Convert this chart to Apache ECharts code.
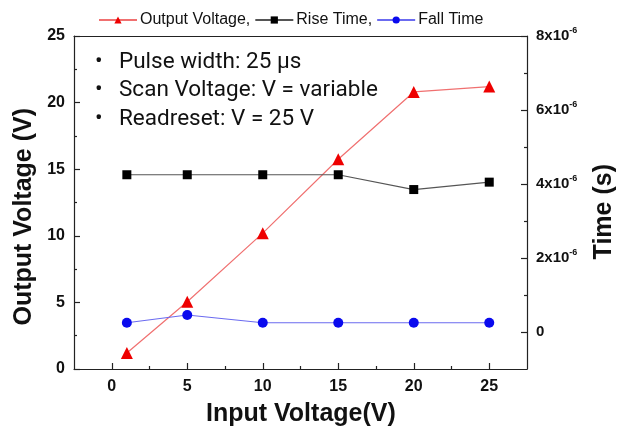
<!DOCTYPE html>
<html>
<head>
<meta charset="utf-8">
<script src="https://cdn.jsdelivr.net/npm/echarts@6/dist/echarts.min.js"></script>
<style>
  html, body { margin: 0; padding: 0; background: #fff; }
  #chart { width: 629px; height: 436px; }
</style>
</head>
<body>
<div id="chart"></div>
<script>
// input voltage (V)
const inputVoltage = [1, 5, 10, 15, 20, 25];
// output voltage (V), left axis
const outputVoltage = [1.2, 5.05, 10.2, 15.75, 20.8, 21.2];
// rise / fall time (s), right axis
const riseTime = [4.25e-6, 4.25e-6, 4.25e-6, 4.25e-6, 3.85e-6, 4.05e-6];
const fallTime = [0.25e-6, 0.46e-6, 0.25e-6, 0.25e-6, 0.25e-6, 0.25e-6];

const xMajor = [0, 5, 10, 15, 20, 25];
const xMinor = [2.5, 7.5, 12.5, 17.5, 22.5];
const timeMajor = [0, 2e-6, 4e-6, 6e-6, 8e-6];
const timeMinor = [1e-6, 3e-6, 5e-6, 7e-6];
const notes = ["Pulse width: 25 \u00b5s", "Scan Voltage: V = variable", "Readreset: V = 25 V"];

const pair = (ys) => inputVoltage.map((x, i) => [x, ys[i]]);
const axisFont = { fontFamily: "Liberation Sans", fontWeight: "bold", fontSize: 16, color: "#111" };
const titleFont = { fontFamily: "Liberation Sans", fontWeight: "bold", fontSize: 25, fill: "#111" };
const line = { show: true, onZero: false, lineStyle: { color: "#222", width: 1.2 } };
const hidden = { show: false, onZero: false };
const tick = (len, values) => ({ show: true, inside: true, length: len, customValues: values, lineStyle: { color: "#222", width: 1.2 } });

let chart = echarts.init(document.getElementById("chart"));
let option = {
  animation: false,
  grid: { left: 74, right: 102, top: 36, bottom: 67 },
  legend: {
    top: 7,
    left: 93,
    itemWidth: 38,
    itemHeight: 9,
    itemGap: 4,
    textStyle: { fontFamily: "Liberation Sans", fontSize: 16, color: "#111", padding: [0, 0, 0, -2] },
    data: ["Output Voltage,", "Rise Time,", "Fall Time"],
  },
  xAxis: [
    {
      type: "value", min: -2.5, max: 27.5,
      axisLine: line,
      splitLine: { show: false },
      axisTick: tick(6, xMajor),
      axisLabel: { ...axisFont, margin: 10, customValues: xMajor },
    },
    {
      type: "value", min: -2.5, max: 27.5, position: "bottom",
      axisLine: hidden, splitLine: { show: false }, axisLabel: { show: false },
      axisTick: tick(3, xMinor),
    },
    {
      type: "value", min: -2.5, max: 27.5, position: "top",
      axisLine: line, splitLine: { show: false }, axisLabel: { show: false }, axisTick: { show: false },
    },
  ],
  yAxis: [
    {
      type: "value", min: 0, max: 25, interval: 5, position: "left",
      axisLine: line,
      splitLine: { show: false },
      axisTick: { show: true, inside: true, length: 6, lineStyle: { color: "#222", width: 1.2 } },
      minorTick: { show: true, splitNumber: 2, length: 3, lineStyle: { color: "#222", width: 1.2 } },
      axisLabel: { ...axisFont, margin: 9 },
    },
    {
      type: "value", min: -1e-6, max: 8e-6, position: "right",
      axisLine: line,
      splitLine: { show: false },
      axisTick: tick(6, timeMajor),
      axisLabel: {
        margin: 9,
        customValues: timeMajor,
        formatter: (v) => {
          const n = Math.round(v * 1e6);
          return n === 0 ? "{b|0}" : "{b|" + n + "x10}{s|-6}";
        },
        rich: {
          b: { ...axisFont, fontSize: 15 },
          s: { fontFamily: "Liberation Sans", fontWeight: "bold", fontSize: 9, color: "#111", verticalAlign: "top", padding: [0, 0, 10, 0] },
        },
      },
    },
    {
      type: "value", min: -1e-6, max: 8e-6, position: "right",
      axisLine: hidden, splitLine: { show: false }, axisLabel: { show: false },
      axisTick: tick(3, timeMinor),
    },
  ],
  graphic: [
    ...notes.map((t, i) => ({
      type: "text", left: 95, top: 51 + i * 28.3,
      style: { text: "\u2022", fontFamily: "Roboto", fontSize: 22.5, fill: "#111" },
    })),
    ...notes.map((t, i) => ({
      type: "text", left: 119, top: 51 + i * 28.3,
      style: { text: t, fontFamily: "Roboto", fontSize: 22.5, fill: "#111" },
    })),
    { type: "text", left: 12, top: 108, rotation: Math.PI / 2, style: { text: "Output Voltage (V)", ...titleFont } },
    { type: "text", left: 592, top: 164, rotation: Math.PI / 2, style: { text: "Time (s)", ...titleFont } },
    { type: "text", left: 206, top: 402, style: { text: "Input Voltage(V)", ...titleFont } },
  ],
  series: [
    {
      name: "Output Voltage,", type: "line", xAxisIndex: 0, yAxisIndex: 0,
      data: pair(outputVoltage),
      symbol: "triangle", symbolSize: 12,
      itemStyle: { color: "#ee0000" },
      lineStyle: { color: "#f07070", width: 1.2 },
    },
    {
      name: "Rise Time,", type: "line", xAxisIndex: 0, yAxisIndex: 1,
      data: pair(riseTime),
      symbol: "rect", symbolSize: 9,
      itemStyle: { color: "#000" },
      lineStyle: { color: "#555", width: 1.2 },
    },
    {
      name: "Fall Time", type: "line", xAxisIndex: 0, yAxisIndex: 1,
      data: pair(fallTime),
      symbol: "circle", symbolSize: 10,
      itemStyle: { color: "#0a0aee" },
      lineStyle: { color: "#6b6bf0", width: 1.2 },
    },
  ],
};
option && chart.setOption(option);
</script>
</body>
</html>
